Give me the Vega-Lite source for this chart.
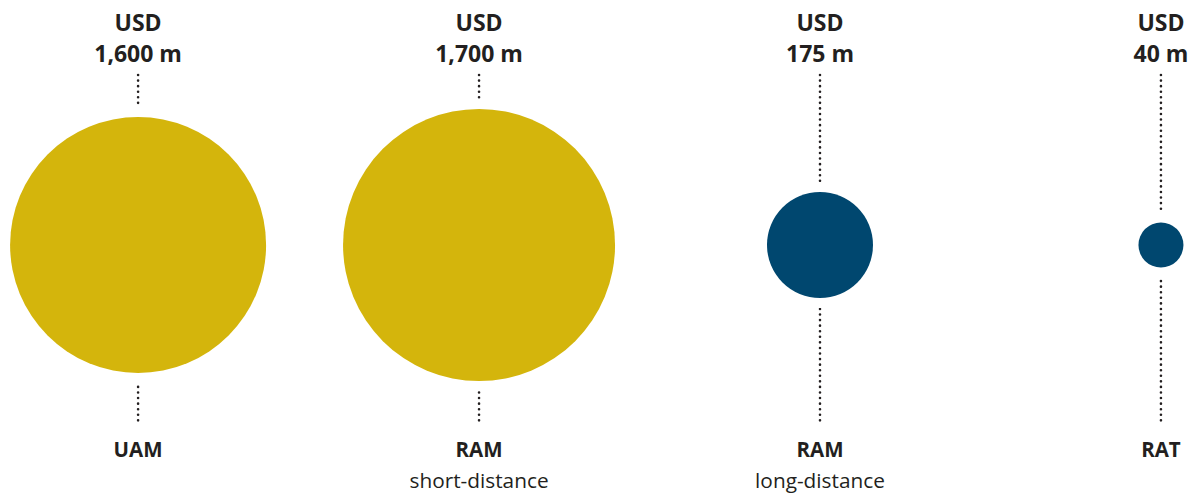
{
  "$schema": "https://vega.github.io/schema/vega-lite/v6.json",
  "width": 1193,
  "height": 494,
  "padding": 0,
  "autosize": {"type": "none"},
  "background": "#ffffff",
  "config": {"view": {"stroke": null}},
  "data": {
    "values": [
      {"idx": 0, "market": "UAM", "sub": "", "value": 1600, "label": "1,600 m", "group": "A"},
      {"idx": 1, "market": "RAM", "sub": "short-distance", "value": 1700, "label": "1,700 m", "group": "A"},
      {"idx": 2, "market": "RAM", "sub": "long-distance", "value": 175, "label": "175 m", "group": "B"},
      {"idx": 3, "market": "RAT", "sub": "", "value": 40, "label": "40 m", "group": "B"}
    ]
  },
  "encoding": {
    "x": {"field": "idx", "type": "quantitative", "scale": {"domain": [-0.405, 3.094], "nice": false, "zero": false}, "axis": null}
  },
  "layer": [
    {
      "mark": {"type": "rule", "color": "#231f20", "strokeWidth": 2.6, "strokeDash": [0.01, 5.56], "strokeCap": "round"},
      "encoding": {
        "y": {"datum": 75, "type": "quantitative", "scale": {"domain": [0, 494], "reverse": true, "nice": false, "zero": false}, "axis": null},
        "y2": {"datum": 421}
      }
    },
    {
      "mark": {"type": "point", "shape": "circle", "filled": true, "fill": "#ffffff", "stroke": "#ffffff", "strokeWidth": 20, "opacity": 1},
      "encoding": {
        "y": {"datum": 245, "type": "quantitative"},
        "size": {"field": "value", "type": "quantitative", "scale": {"type": "linear", "domain": [40, 175, 1600, 1700], "range": [2025, 11236, 65536, 73984], "zero": false, "nice": false}, "legend": null}
      }
    },
    {
      "mark": {"type": "point", "shape": "circle", "filled": true, "opacity": 1, "strokeWidth": 0},
      "encoding": {
        "y": {"datum": 245, "type": "quantitative"},
        "size": {"field": "value", "type": "quantitative", "legend": null},
        "color": {"field": "group", "type": "nominal", "scale": {"domain": ["A", "B"], "range": ["#d4b50c", "#00476f"]}, "legend": null}
      }
    },
    {
      "mark": {"type": "text", "font": "Open Sans", "fontWeight": "bold", "fontSize": 23, "color": "#231f20", "baseline": "alphabetic", "align": "center", "text": "USD"},
      "encoding": {"y": {"datum": 31, "type": "quantitative"}}
    },
    {
      "mark": {"type": "text", "font": "Open Sans", "fontWeight": "bold", "fontSize": 23, "color": "#231f20", "baseline": "alphabetic", "align": "center"},
      "encoding": {"y": {"datum": 62, "type": "quantitative"}, "text": {"field": "label"}}
    },
    {
      "mark": {"type": "text", "font": "Open Sans", "fontWeight": "bold", "fontSize": 20.5, "color": "#231f20", "baseline": "alphabetic", "align": "center"},
      "encoding": {"y": {"datum": 456.5, "type": "quantitative"}, "text": {"field": "market"}}
    },
    {
      "mark": {"type": "text", "font": "Open Sans", "fontSize": 20.8, "color": "#231f20", "baseline": "alphabetic", "align": "center"},
      "encoding": {"y": {"datum": 487.5, "type": "quantitative"}, "text": {"field": "sub"}}
    }
  ]
}
